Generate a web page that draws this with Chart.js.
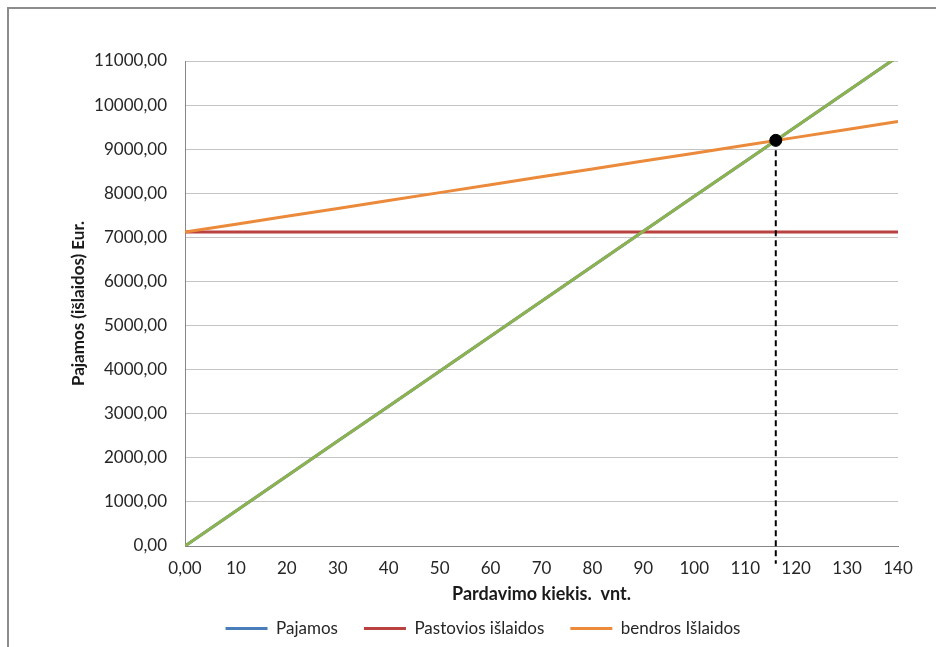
<!DOCTYPE html>
<html lang="lt">
<head>
<meta charset="UTF-8">
<title>Lūžio taškas</title>
<script src="https://cdn.jsdelivr.net/npm/chart.js"></script>
<style>
    body {
        margin: 0;
        background-color: #ffffff;
    }
    .frame {
        position: absolute;
        left: 7px;
        top: 7px;
        width: 940px;
        height: 660px;
        border-left: 2px solid #8c8c8c;
        border-top: 2px solid #8c8c8c;
    }
    canvas {
        position: absolute;
        left: 0;
        top: 0;
    }
</style>
</head>
<body>
<div class="frame"></div>
<canvas id="breakEvenChart" width="936" height="647"></canvas>

<script>
// pardavimo kiekis, vnt.
const quantities = [0, 10, 20, 30, 40, 50, 60, 70, 80, 90, 100, 110, 120, 130, 140];
// pajamos, Eur
const revenue = [0, 793, 1586, 2379, 3172, 3965, 4758, 5551, 6344, 7137, 7930, 8723, 9516, 10309, 11102];
// pastovios islaidos, Eur
const fixedCosts = [7120, 7120, 7120, 7120, 7120, 7120, 7120, 7120, 7120, 7120, 7120, 7120, 7120, 7120, 7120];
// bendros islaidos, Eur
const totalCosts = [7120, 7299, 7478, 7657, 7836, 8015, 8194, 8373, 8552, 8731, 8910, 9089, 9268, 9447, 9626];
// luzio taskas
const breakEvenX = 116;
const breakEvenY = 9200;
const dropLineBottom = -400;

const seriesNames = ['Pajamos', 'Pastovios išlaidos', 'bendros Išlaidos'];

function toPoints(values) {
    return quantities.map((q, i) => ({ x: q, y: values[i] }));
}

const ctx = document.getElementById('breakEvenChart').getContext('2d');
new Chart(ctx, {
    type: 'line',
    data: {
        datasets: [
            {
                label: seriesNames[0],
                data: toPoints(revenue),
                borderColor: '#4a7ebb',
                backgroundColor: '#4a7ebb',
                borderWidth: 3,
                pointRadius: 0,
                order: 5
            },
            {
                label: seriesNames[1],
                data: toPoints(fixedCosts),
                borderColor: '#b9413f',
                backgroundColor: '#b9413f',
                borderWidth: 3,
                pointRadius: 0,
                order: 4
            },
            {
                label: seriesNames[2],
                data: toPoints(totalCosts),
                borderColor: '#ea8a3a',
                backgroundColor: '#ea8a3a',
                borderWidth: 3,
                pointRadius: 0,
                order: 2
            },
            {
                label: 'overlay',
                data: toPoints(revenue),
                borderColor: '#8db24e',
                borderWidth: 3,
                pointRadius: 0,
                order: 3
            },
            {
                label: 'dropline',
                data: [{ x: breakEvenX, y: breakEvenY }, { x: breakEvenX, y: dropLineBottom }],
                borderColor: '#000000',
                borderWidth: 2,
                borderDash: [6, 4],
                pointRadius: 0,
                clip: false,
                order: 1
            },
            {
                label: 'point',
                data: [{ x: breakEvenX, y: breakEvenY }],
                showLine: false,
                pointRadius: 6,
                pointBackgroundColor: '#000000',
                pointBorderColor: '#000000',
                order: 0
            }
        ]
    },
    options: {
        responsive: false,
        animation: false,
        layout: {
            padding: { left: 68, right: 38, top: 61, bottom: 0 }
        },
        scales: {
            x: {
                type: 'linear',
                min: 0,
                max: 140,
                afterFit: (scale) => { scale.height = 48; },
                grid: { display: false, drawTicks: false },
                border: { color: '#868686', width: 1 },
                ticks: {
                    stepSize: 10,
                    padding: 12,
                    color: '#262626',
                    font: { family: 'Lato', size: 17 },
                    callback: (v) => v === 0 ? '0,00' : v
                },
                title: {
                    display: true,
                    text: 'Pardavimo kiekis.  vnt.',
                    color: '#1a1a1a',
                    padding: { top: 0, bottom: -11 },
                    font: { family: 'Lato', size: 18, weight: 'bold' }
                }
            },
            y: {
                min: 0,
                max: 11000,
                afterFit: (scale) => { scale.width = 117; },
                grid: { color: '#c4c4c4', drawTicks: false },
                border: { color: '#868686', width: 1 },
                ticks: {
                    stepSize: 1000,
                    padding: 18,
                    color: '#262626',
                    font: { family: 'Lato', size: 17 },
                    callback: (v) => v.toFixed(2).replace('.', ',')
                },
                title: {
                    display: true,
                    text: 'Pajamos (išlaidos) Eur.',
                    color: '#1a1a1a',
                    padding: { top: 0, bottom: 0 },
                    font: { family: 'Lato', size: 17, weight: 'bold' }
                }
            }
        },
        plugins: {
            tooltip: { enabled: false },
            legend: {
                display: true,
                position: 'bottom',
                labels: {
                    color: '#262626',
                    font: { family: 'Lato', size: 17 },
                    usePointStyle: true,
                    pointStyle: 'line',
                    pointStyleWidth: 42,
                    padding: 26,
                    filter: (item) => seriesNames.includes(item.text),
                    sort: (a, b) => a.datasetIndex - b.datasetIndex
                }
            }
        }
    }
});
</script>
</body>
</html>
